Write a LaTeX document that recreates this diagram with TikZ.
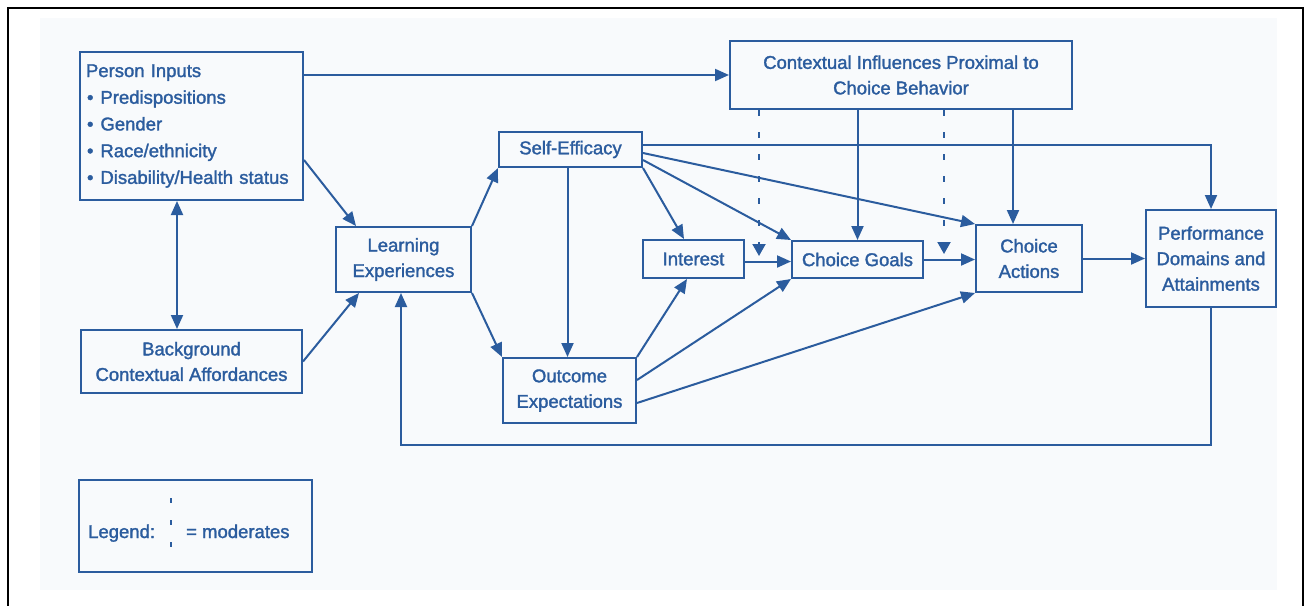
\documentclass[tikz,border=0pt]{standalone}
\usepackage{fontspec}
\setmainfont{Liberation Sans}[FakeBold=1.6]
\usetikzlibrary{arrows.meta,calc}
\definecolor{ink}{RGB}{43,92,158}
\definecolor{paper}{RGB}{248,250,252}
\begin{document}
\begin{tikzpicture}[x=1pt,y=-1pt,
  font=\fontsize{18.5}{25.5}\selectfont,
  box/.style={draw=ink, line width=2pt, inner sep=0pt, align=center, text=ink},
  arr/.style={draw=ink, line width=2pt, -{Triangle[length=14pt,width=12pt]}},
  darr/.style={draw=ink, line width=2pt, {Triangle[length=14pt,width=12pt]}-{Triangle[length=14pt,width=12pt]}},
  modline/.style={draw=ink, line width=2pt, dash pattern=on 6pt off 16pt},
  lbl/.style={text=ink, inner sep=0pt}]
\useasboundingbox (0,0) rectangle (1305,605);
\clip (0,0) rectangle (1305,605);
\fill[paper] (40,18) rectangle (1277,590);
\draw[black, line width=2pt] (8,8) rectangle (1302.5,640);

% boxes
\node[box, minimum width=223pt, minimum height=148pt, text width=211pt, align=left,
      font=\fontsize{18.5}{26.7}\selectfont] (pin) at (191.5,126)
  {Person Inputs\\
   \hspace{1pt}\textbullet\hspace{7pt}Predispositions\\
   \hspace{1pt}\textbullet\hspace{7pt}Gender\\
   \hspace{1pt}\textbullet\hspace{7pt}Race/ethnicity\\
   \hspace{1pt}\textbullet\hspace{7pt}Disability/Health status};
\node[box, minimum width=221pt, minimum height=63pt] (bg) at (191.5,361.5)
  {Background\\Contextual Affordances};
\node[box, minimum width=135pt, minimum height=65pt] (lexp) at (403.5,259.5)
  {Learning\\Experiences};
\node[box, minimum width=143pt, minimum height=35pt] (se) at (570.5,149.5)
  {Self-Efficacy};
\node[box, minimum width=133pt, minimum height=65pt] (oe) at (569.5,390.5)
  {Outcome\\Expectations};
\node[box, minimum width=342pt, minimum height=68pt] (ctx) at (901,75)
  {Contextual Influences Proximal to\\Choice Behavior};
\node[box, minimum width=101pt, minimum height=38pt] (int) at (693.5,259)
  {Interest};
\node[box, minimum width=131pt, minimum height=37pt] (cg) at (857.5,259.5)
  {Choice Goals};
\node[box, minimum width=106pt, minimum height=67pt] (ca) at (1029,258.5)
  {Choice\\Actions};
\node[box, minimum width=130pt, minimum height=97pt] (perf) at (1211,258.5)
  {Performance\\Domains and\\Attainments};

% legend
\node[box, minimum width=233pt, minimum height=92pt] (leg) at (195.5,526) {};
\node[lbl, anchor=base west] (legt) at (88,538) {Legend:};
\node[lbl, anchor=base west] (legm) at (186,538) {= moderates};
\coordinate (lgtop) at (171,498);
\coordinate (lgbot) at (171,549);
\draw[modline, dash pattern=on 5pt off 17pt] (lgtop) -- (lgbot);

% connectors
\draw[arr] (pin.east |- ctx.west) -- (ctx.west);
\draw[arr] ([yshift=-34pt]pin.east) -- ([xshift=21pt]lexp.north west);
\draw[arr] (bg.east) -- ([xshift=24pt]lexp.south west);
\draw[darr] ([xshift=-14.5pt]pin.south) -- ([xshift=-14.5pt]bg.north);
\draw[arr] (lexp.north east) -- (se.south west);
\draw[arr] (lexp.south east) -- (oe.north west);
\draw[arr] ([xshift=-3pt]se.south) -- ([xshift=-3pt]se.south |- oe.north);
\draw[arr] (se.south east) -- ([xshift=-9.5pt]int.north);
\draw[arr] ([yshift=-10.5pt]se.east) -- (cg.north west);
\draw[arr] ([yshift=-3.5pt]se.east) -- (ca.north west);
\draw[arr] ([yshift=4.5pt]se.east) -| (perf.north);
\draw[arr] (ctx.south -| cg.north) -- (cg.north);
\draw[arr] ([xshift=-16pt]ca.north |- ctx.south) -- ([xshift=-16pt]ca.north);
\coordinate (m1) at (759,256);
\coordinate (m2) at (944,254);
\draw[modline, -{Triangle[length=12pt,width=13pt]}] (m1 |- ctx.south) -- (m1);
\draw[modline, -{Triangle[length=12pt,width=13pt]}] (m2 |- ctx.south) -- (m2);
\draw[arr] ([yshift=-2.5pt]int.east) -- ([yshift=-2.5pt]int.east -| cg.west);
\draw[arr] (cg.east) -- (cg.east -| ca.west);
\draw[arr] (oe.north east) -- ([xshift=-6.5pt]int.south);
\draw[arr] ([yshift=10.5pt]oe.east) -- (cg.south west);
\draw[arr] ([yshift=-12.5pt]oe.east) -- (ca.south west);
\draw[arr] (ca.east) -- (ca.east -| perf.west);
\coordinate (fbk) at (401,445);
\draw[arr] (perf.south) |- (fbk) -- (fbk |- lexp.south);
\end{tikzpicture}
\end{document}
